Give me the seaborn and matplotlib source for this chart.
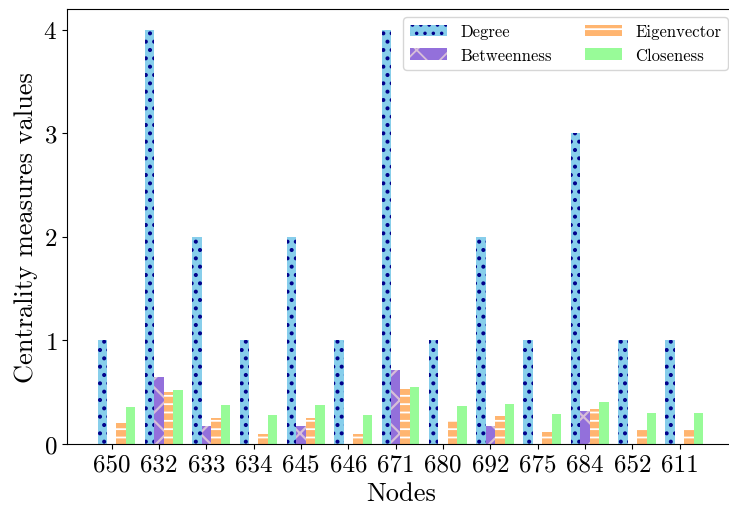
import numpy as np
import pandas as pd
import matplotlib
matplotlib.use("Agg")
import matplotlib.pyplot as plt
import seaborn as sns

plt.rcParams['font.family'] = 'serif'
plt.rcParams['font.serif'] = ['cmr10', 'DejaVu Serif']
plt.rcParams['mathtext.fontset'] = 'cm'
plt.rcParams['axes.formatter.use_mathtext'] = True
plt.rcParams['hatch.linewidth'] = 1.3

nodes = ['650', '632', '633', '634', '645', '646', '671', '680', '692', '675', '684', '652', '611']
degree = [1, 4, 2, 1, 2, 1, 4, 1, 2, 1, 3, 1, 1]
betweenness = [0, 0.65, 0.17, 0, 0.17, 0, 0.71, 0, 0.17, 0, 0.32, 0, 0]
eigenvector = [0.2, 0.505, 0.247, 0.10, 0.247, 0.10, 0.534, 0.218, 0.267, 0.112, 0.334, 0.141, 0.141]
closeness = [0.354, 0.525, 0.377, 0.28, 0.377, 0.28, 0.547, 0.363, 0.39, 0.286, 0.41, 0.302, 0.302]
measures = ['Degree', 'Betweenness', 'Eigenvector', 'Closeness']
colors = ['skyblue', 'mediumpurple', '#FFB570', 'palegreen']
hatches = ['..', 'x', '--', '']
hatch_colors = ['darkblue', 'thistle', 'white', 'palegreen']
hatch_widths = [1.7, 1.6, 1.3, 1.0]

df = pd.DataFrame({
    'Node': nodes * 4,
    'Measure': sum([[m] * len(nodes) for m in measures], []),
    'Value': degree + betweenness + eigenvector + closeness,
})

fig = plt.figure(figsize=(7.29, 5.10), dpi=100)
ax = fig.add_axes([67/729, 65/510, 669/729, 435/510])
sns.barplot(data=df, x='Node', y='Value', hue='Measure', order=nodes, hue_order=measures,
            palette=colors, saturation=1, width=0.8, dodge=True, legend=False, ax=ax)

for cont, h, hc, hw in zip(ax.containers, hatches, hatch_colors, hatch_widths):
    for p in cont.patches:
        p.set_hatch(h)
        p.set_edgecolor(hc)
        p.set_linewidth(0)
        if hasattr(p, 'set_hatch_linewidth'):
            p.set_hatch_linewidth(hw)

ax.set_xticks(np.arange(len(nodes)) - 0.1)
ax.set_xticklabels(nodes)
ax.set_xlim(-1.045, 13.09)
ax.set_ylim(0, 4.2)
ax.set_yticks([0, 1, 2, 3, 4])
ax.tick_params(axis='both', labelsize=18)
ax.set_xlabel('Nodes', fontsize=19)
ax.set_ylabel('Centrality measures values', fontsize=19)

ax.legend(ax.containers, measures, ncol=2, loc='upper right', fontsize=12,
          handlelength=2.2, handleheight=0.7, columnspacing=2.0, framealpha=0.8)

fig.savefig('out.png', dpi=100)
